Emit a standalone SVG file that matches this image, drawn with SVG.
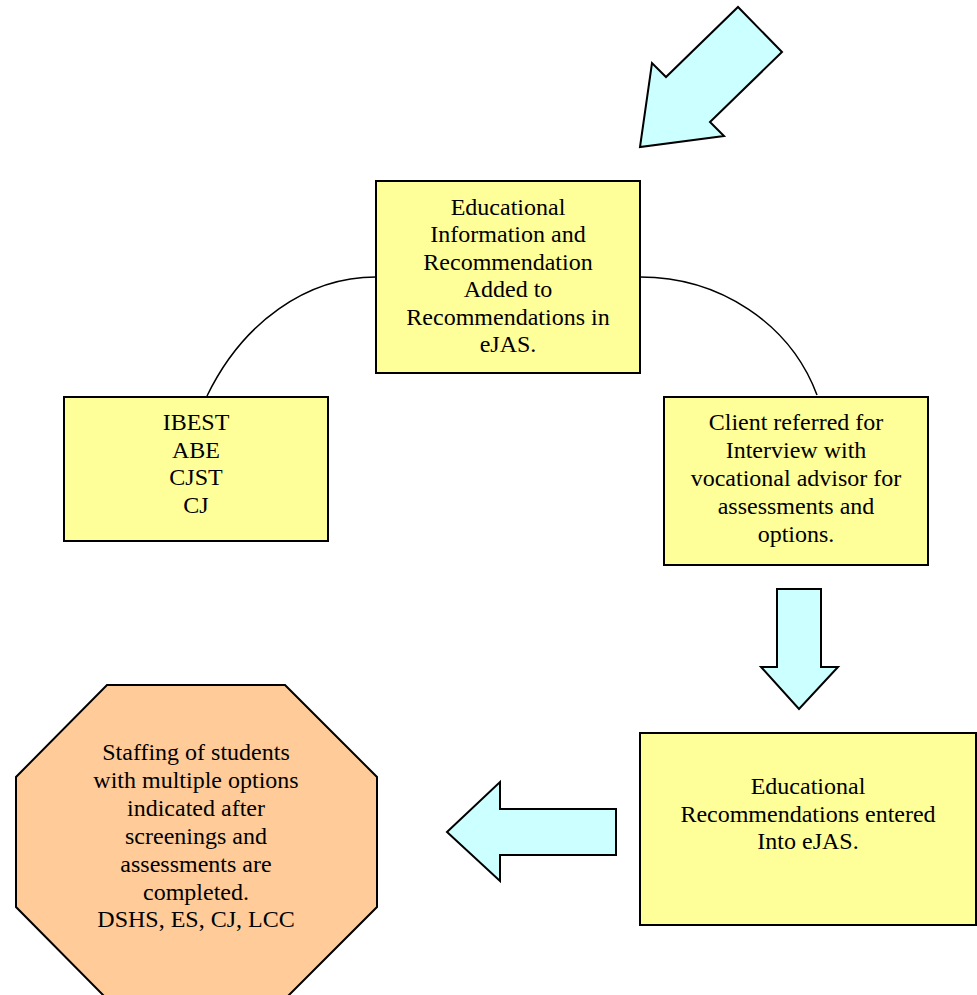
<svg xmlns="http://www.w3.org/2000/svg" width="977" height="995" viewBox="0 0 977 995">
<style>
.box{fill:#FFFF99;stroke:#000;stroke-width:2}
.arrow{fill:#CCFFFF;stroke:#000;stroke-width:2;stroke-linejoin:miter}
.oct{fill:#FFCC99;stroke:#000;stroke-width:2}
.conn{fill:none;stroke:#000;stroke-width:1.5}
text{font-family:"Liberation Serif","Times New Roman",serif;font-size:24px;fill:#000;text-anchor:middle;dominant-baseline:central}
</style>
<rect width="977" height="995" fill="#fff"/>
<g id="connectors">
<path class="conn" d="M376,277 C306.7,277 242.6,322.3 207,396"/>
<path class="conn" d="M640,277 C719.4,277 790.2,323.3 817,395"/>
</g>
<g id="arrow-top"><polygon class="arrow" points="640,147 652,63 666,77 738,7 782,52 710,122 724,136"/></g>
<g id="arrow-down"><polygon class="arrow" points="777,589 821,589 821,667 838,667 799,709 761,667 777,667"/></g>
<g id="arrow-left"><polygon class="arrow" points="616,809 616,855 500,855 500,881 447,832 500,782 500,809"/></g>
<g id="node-top">
<rect class="box" x="376" y="181" width="264" height="192"/>
<text x="508" y="207">Educational</text>
<text x="508" y="234">Information and</text>
<text x="508" y="262">Recommendation</text>
<text x="508" y="289">Added to</text>
<text x="508" y="317">Recommendations in</text>
<text x="508" y="344">eJAS.</text>
</g>
<g id="node-ibest">
<rect class="box" x="64" y="397" width="264" height="144"/>
<text x="196" y="422">IBEST</text>
<text x="196" y="450">ABE</text>
<text x="196" y="477">CJST</text>
<text x="196" y="505">CJ</text>
</g>
<g id="node-client">
<rect class="box" x="664" y="397" width="264" height="168"/>
<text x="796" y="422">Client referred for</text>
<text x="796" y="450">Interview with</text>
<text x="796" y="478">vocational advisor for</text>
<text x="796" y="506">assessments and</text>
<text x="796" y="534">options.</text>
</g>
<g id="node-recs">
<rect class="box" x="640" y="733" width="336" height="192"/>
<text x="808" y="786">Educational</text>
<text x="808" y="814">Recommendations entered</text>
<text x="808" y="841">Into eJAS.</text>
</g>
<g id="node-staffing">
<polygon class="oct" points="107,685 285,685 377,777 377,907 285,999 107,999 16,907 16,777"/>
<text x="196" y="752">Staffing of students</text>
<text x="196" y="780">with multiple options</text>
<text x="196" y="808">indicated after</text>
<text x="196" y="836">screenings and</text>
<text x="196" y="864">assessments are</text>
<text x="196" y="892">completed.</text>
<text x="196" y="919">DSHS, ES, CJ, LCC</text>
</g>
</svg>
